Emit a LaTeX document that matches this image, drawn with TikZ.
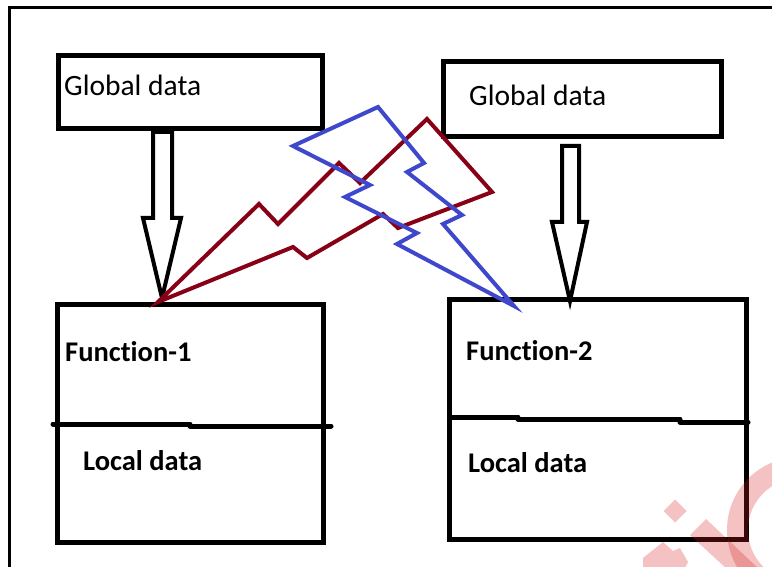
\documentclass[tikz,border=0pt]{standalone}
\usepackage{fontspec}
\setmainfont[Ligatures={NoCommon}]{Carlito}
\definecolor{boltred}{RGB}{136,0,21}
\definecolor{boltblue}{RGB}{63,72,204}
\definecolor{wmred}{RGB}{215,30,30}
\tikzset{
  box/.style={draw=black, line width=5pt, fill=none, inner sep=0pt, outer sep=0pt},
  lbl/.style={anchor=base west, inner sep=0pt, font=\fontsize{29.5}{33}\selectfont},
  blbl/.style={anchor=base west, inner sep=0pt, font=\fontsize{28.5}{33}\selectfont\bfseries},
  blockarrow/.style={draw=black, fill=white, line width=4pt, line join=miter},
  bolt/.style={line width=4pt, line join=miter},
  divider/.style={line width=5pt, line cap=round},
  wm/.style={fill=wmred, fill opacity=0.27, draw=none}
}
\begin{document}
\begin{tikzpicture}[x=1pt,y=-1pt]
\useasboundingbox (0,0) rectangle (772,567);
\fill[white] (0,0) rectangle (772,567);
\begin{scope}
\clip (0,0) rectangle (772,567);
% frame
\draw[line width=3pt] (9,567) -- (9,8) -- (772,8);
% boxes
\node[box, minimum width=264pt, minimum height=73pt] (g1) at (190,92) {};
\node[box, minimum width=278pt, minimum height=75pt] (g2) at (582,99.5) {};
\node[box, minimum width=266pt, minimum height=238pt] (f1) at (190.5,423.5) {};
\node[box, minimum width=297pt, minimum height=240pt] (f2) at (598,419.5) {};
% dividers
\draw[divider] (53,424) -- (190,424);
\draw[divider] (190,426) -- (331,426);
\draw[divider] (450,417) -- (518,417);
\draw[divider] (518,419) -- (680,419);
\draw[divider] (680,422) -- (748,422);
% block arrows
\draw[blockarrow] (153,132) -- (172,132) -- (172,218) -- (181,218) -- (162,298) -- (143,218) -- (153,218) -- cycle;
\draw[blockarrow] (562,146) -- (579,146) -- (579,222) -- (587,222) -- (570,301) -- (552,222) -- (562,222) -- cycle;
% lightning bolts
\draw[bolt, draw=boltred] (158,302) -- (293,247) -- (307,258) -- (383,214) -- (398,228) -- (492,192) -- (427,119) -- (360,183) -- (339,163) -- (278,224) -- (259,204) -- cycle;
\draw[bolt, draw=boltblue] (514,306) -- (397,244) -- (417,233) -- (345,197) -- (370,185) -- (293,146) -- (378,107) -- (424,163) -- (407,172) -- (462,215) -- (443,224) -- cycle;
% labels
\node[lbl] (t1) at (64,96) {Global data};
\node[lbl] (t2) at (469,106) {Global data};
\node[blbl] (t3) at (65,361) {Function-1};
\node[blbl] (t4) at (466,360) {Function-2};
\node[blbl] (t5) at (83,470) {Local data};
\node[blbl] (t6) at (468,472) {Local data};
% watermark fragments
\fill[wm] (675,499.5) -- (686.5,511) -- (675,522.5) -- (663.5,511) -- cycle;
\fill[wm] (643,558) -- (663,542) -- (673,551) -- (680,548) -- (688,562) -- (684,570) -- (643,570) -- cycle;
\fill[wm] (690,535) -- (706,519) -- (760,570) -- (728,570) -- cycle;
\fill[wm, even odd rule] (800,530) circle (73) (800,530) circle (52);
\end{scope}
\end{tikzpicture}
\end{document}
